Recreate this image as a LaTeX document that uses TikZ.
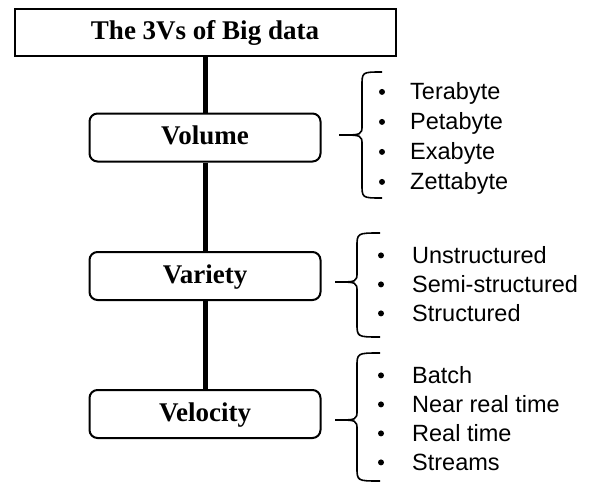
\documentclass[tikz,border=0pt]{standalone}
\usepackage{fontspec}
\setmainfont{Liberation Serif}
\newfontfamily\itemfont{Liberation Sans}
\begin{document}
\begin{tikzpicture}[x=1pt,y=-1pt,
  box/.style={draw, line width=2pt, minimum width=231pt, minimum height=48pt, rounded corners=8pt, inner sep=0pt,
    font=\bfseries\fontsize{27}{31}\selectfont, text height=18pt, text depth=4pt},
  conn/.style={line width=5pt},
  brace/.style={line width=1.6pt},
  item/.style={anchor=base west, inner sep=0pt, font=\itemfont\fontsize{23.5}{28}\selectfont},
  dot/.style={circle, fill, inner sep=0pt, minimum size=6pt}]
\useasboundingbox (0,0) rectangle (592,482);
\node[box, rounded corners=0pt, minimum width=381pt, minimum height=47pt] (title) at (205,32.5) {The 3Vs of Big data};
\node[box] (vol) at (205,137.5) {Volume};
\node[box] (var) at (205,276) {Variety};
\node[box] (vel) at (205,414) {Velocity};
\draw[conn] (title.south) -- (vol.north);
\draw[conn] (vol.south) -- (var.north);
\draw[conn] (var.south) -- (vel.north);
% braces
\draw[brace] (382,72) .. controls (362,72) .. (362,86) -- (362,125) .. controls (362,135) .. (339,135)
  .. controls (362,135) .. (362,145) -- (362,184) .. controls (362,198) .. (382,198);
\draw[brace] (380,233) .. controls (357,233) .. (357,247) -- (357,272) .. controls (357,282) .. (335,282)
  .. controls (357,282) .. (357,292) -- (357,323) .. controls (357,337) .. (380,337);
\draw[brace] (380,353) .. controls (357,353) .. (357,367) -- (357,410) .. controls (357,420) .. (335,420)
  .. controls (357,420) .. (357,430) -- (357,467) .. controls (357,481) .. (380,481);
% items
\foreach \t/\y [count=\i] in {Terabyte/99.5, Petabyte/129.5, Exabyte/159.5, Zettabyte/189.5}{
  \node[dot] (vb\i) at (382,\y-7.6) {};
  \node[item] (vi\i) at (410,\y) {\t};
}
\foreach \t/\y [count=\i] in {Unstructured/263, Semi-structured/292, Structured/321}{
  \node[dot] (rb\i) at (381,\y-7.6) {};
  \node[item] (ri\i) at (412,\y) {\t};
}
\foreach \t/\y [count=\i] in {Batch/383, Near real time/412, Real time/441, Streams/470}{
  \node[dot] (lb\i) at (381,\y-7.6) {};
  \node[item] (li\i) at (412,\y) {\t};
}
\end{tikzpicture}
\end{document}
